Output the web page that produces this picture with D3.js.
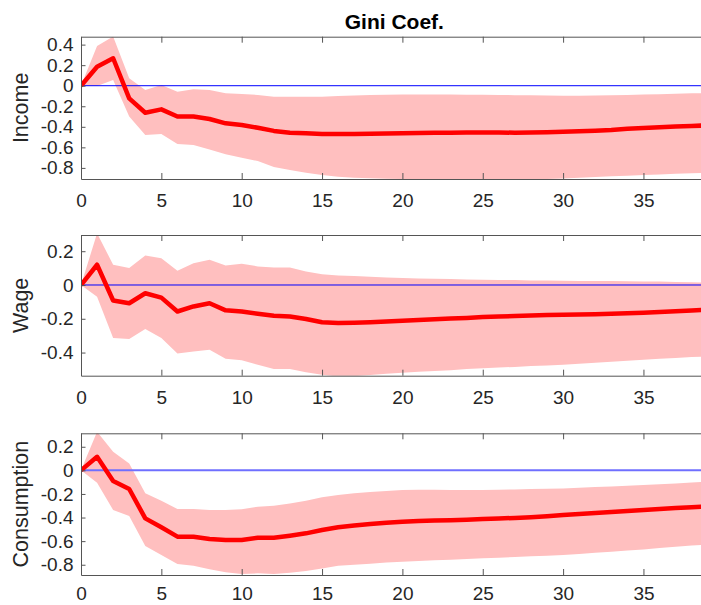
<!DOCTYPE html>
<html>
<head>
<meta charset="utf-8">
<script src="https://cdn.jsdelivr.net/npm/d3@7"></script>
<style>
  html, body { margin: 0; padding: 0; background: #fff; overflow: hidden; }
  svg { display: block; }
  text { font-family: "Liberation Sans", Arial, Helvetica, sans-serif; }
</style>
</head>
<body>
<svg id="chart" width="701" height="605"></svg>
<script>
// ---------------- DATA ----------------
const title = "Gini Coef.";
const horizon = d3.range(0, 40);            // periods 0..39
const xTicks = [0, 5, 10, 15, 20, 25, 30, 35];

const panelNames = ["Income", "Wage", "Consumption"];

const incomeMean = [0, 0.185, 0.267, -0.123, -0.263, -0.23, -0.30, -0.30, -0.324, -0.366,
  -0.383, -0.409, -0.44, -0.457, -0.463, -0.47, -0.47, -0.47, -0.468, -0.466,
  -0.463, -0.461, -0.459, -0.457, -0.456, -0.455, -0.456, -0.457, -0.456, -0.453,
  -0.448, -0.444, -0.438, -0.431, -0.420, -0.411, -0.404, -0.398, -0.392, -0.386];
const incomeUpper = [0, 0.387, 0.48, 0.072, -0.042, 0.007, -0.058, -0.035, -0.042, -0.074,
  -0.081, -0.09, -0.107, -0.107, -0.107, -0.107, -0.10, -0.095, -0.09, -0.088,
  -0.086, -0.085, -0.085, -0.086, -0.087, -0.088, -0.090, -0.092, -0.094, -0.096,
  -0.097, -0.097, -0.096, -0.093, -0.09, -0.086, -0.082, -0.078, -0.074, -0.071];
const incomeLower = [0, -0.003, 0.055, -0.30, -0.48, -0.47, -0.568, -0.577, -0.62, -0.668,
  -0.70, -0.733, -0.79, -0.82, -0.847, -0.87, -0.886, -0.895, -0.90, -0.905,
  -0.908, -0.91, -0.912, -0.913, -0.914, -0.914, -0.914, -0.913, -0.912, -0.908,
  -0.902, -0.895, -0.888, -0.882, -0.876, -0.870, -0.864, -0.858, -0.853, -0.848];

const wageMean = [0, 0.12, -0.092, -0.108, -0.049, -0.075, -0.157, -0.127, -0.108, -0.15,
  -0.157, -0.17, -0.182, -0.186, -0.201, -0.221, -0.225, -0.224, -0.221, -0.216,
  -0.211, -0.207, -0.203, -0.199, -0.195, -0.19, -0.187, -0.184, -0.181, -0.178,
  -0.176, -0.175, -0.173, -0.170, -0.167, -0.164, -0.160, -0.156, -0.151, -0.147];
const wageUpper = [0, 0.306, 0.12, 0.10, 0.175, 0.158, 0.084, 0.129, 0.15, 0.116,
  0.126, 0.11, 0.104, 0.104, 0.08, 0.064, 0.056, 0.053, 0.049, 0.045,
  0.041, 0.039, 0.037, 0.035, 0.033, 0.031, 0.030, 0.029, 0.027, 0.026,
  0.025, 0.024, 0.024, 0.023, 0.022, 0.021, 0.020, 0.018, 0.016, 0.015];
const wageLower = [0, -0.07, -0.314, -0.32, -0.26, -0.314, -0.406, -0.393, -0.383, -0.436,
  -0.446, -0.472, -0.498, -0.498, -0.516, -0.532, -0.542, -0.540, -0.533, -0.526,
  -0.519, -0.514, -0.509, -0.504, -0.498, -0.493, -0.489, -0.485, -0.480, -0.476,
  -0.472, -0.466, -0.460, -0.454, -0.448, -0.442, -0.437, -0.432, -0.427, -0.423];

const consMean = [0, 0.115, -0.09, -0.158, -0.407, -0.483, -0.562, -0.562, -0.582, -0.59,
  -0.59, -0.571, -0.571, -0.554, -0.534, -0.506, -0.483, -0.467, -0.455, -0.445,
  -0.435, -0.430, -0.426, -0.422, -0.418, -0.413, -0.408, -0.403, -0.397, -0.389,
  -0.379, -0.371, -0.362, -0.354, -0.345, -0.336, -0.328, -0.320, -0.312, -0.305];
const consUpper = [0, 0.327, 0.158, 0.059, -0.195, -0.258, -0.328, -0.328, -0.336, -0.336,
  -0.33, -0.308, -0.30, -0.28, -0.258, -0.229, -0.209, -0.194, -0.183, -0.174,
  -0.167, -0.165, -0.165, -0.166, -0.167, -0.167, -0.165, -0.162, -0.159, -0.156,
  -0.153, -0.148, -0.142, -0.136, -0.131, -0.125, -0.118, -0.111, -0.103, -0.096];
const consLower = [0, -0.105, -0.336, -0.387, -0.642, -0.718, -0.794, -0.808, -0.839, -0.864,
  -0.879, -0.873, -0.879, -0.868, -0.853, -0.831, -0.808, -0.800, -0.791, -0.782,
  -0.774, -0.768, -0.763, -0.757, -0.752, -0.746, -0.740, -0.735, -0.729, -0.724,
  -0.718, -0.709, -0.699, -0.690, -0.680, -0.670, -0.659, -0.648, -0.637, -0.628];

const yTicksIncome = [0.4, 0.2, 0, -0.2, -0.4, -0.6, -0.8];
const yTicksWage = [0.2, 0, -0.2, -0.4];
const yTicksCons = [0.2, 0, -0.2, -0.4, -0.6, -0.8];

const yDomainIncome = [-0.908, 0.477];
const yDomainWage = [-0.537, 0.296];
const yDomainCons = [-0.887, 0.314];

// ---------------- LAYOUT ----------------
const svg = d3.select("#chart");
const left = 81, right = 81 + 39 * 16.07;
const panels = [
  { name: panelNames[0], mean: incomeMean, up: incomeUpper, lo: incomeLower, ticks: yTicksIncome, dom: yDomainIncome, top: 36.7, bottom: 179, zc: "#0000ff", zw: 1, pad: 14.5 },
  { name: panelNames[1], mean: wageMean, up: wageUpper, lo: wageLower, ticks: yTicksWage, dom: yDomainWage, top: 235, bottom: 375.7, zc: "#0000ff", zw: 1, pad: 14.5 },
  { name: panelNames[2], mean: consMean, up: consUpper, lo: consLower, ticks: yTicksCons, dom: yDomainCons, top: 433.3, bottom: 575, zc: "#6f6fff", zw: 2, pad: 12 }
];

const x = d3.scaleLinear().domain([0, 39]).range([left, right]);
const fmt = d => String(+d.toFixed(1));
const axisColor = "#555";
const textColor = "#262626";

panels.forEach((p, i) => {
  const y = d3.scaleLinear().domain(p.dom).range([p.bottom, p.top]);
  const clipId = "clip" + i;
  svg.append("clipPath").attr("id", clipId)
    .append("rect").attr("x", left).attr("y", p.top)
    .attr("width", right - left).attr("height", p.bottom - p.top);

  const g = svg.append("g");
  const plot = g.append("g").attr("clip-path", `url(#${clipId})`);

  const area = d3.area()
    .x((d, k) => x(horizon[k]))
    .y0((d, k) => y(p.lo[k]))
    .y1((d, k) => y(p.up[k]));
  plot.append("path").datum(p.mean).attr("d", area)
    .attr("fill", "#ffbfbf").attr("stroke", "none");

  plot.append("line")
    .attr("x1", x(0)).attr("x2", x(39))
    .attr("y1", y(0)).attr("y2", y(0))
    .attr("stroke", p.zc).attr("stroke-width", p.zw);

  const line = d3.line().x((d, k) => x(horizon[k])).y(d => y(d));
  plot.append("path").datum(p.mean).attr("d", line)
    .attr("fill", "none").attr("stroke", "#ff0000")
    .attr("stroke-width", 4.5).attr("stroke-linejoin", "round");

  // axes
  const bottomAxis = d3.axisBottom(x).tickValues(xTicks).tickFormat(d => String(d))
    .tickSizeInner(-6).tickSizeOuter(0).tickPadding(p.pad);
  const topAxis = d3.axisTop(x).tickValues(xTicks).tickFormat("")
    .tickSizeInner(-6).tickSizeOuter(0);
  const leftAxis = d3.axisLeft(y).tickValues(p.ticks).tickFormat(fmt)
    .tickSizeInner(-4.5).tickSizeOuter(0).tickPadding(7.5);

  const gb = g.append("g").attr("transform", `translate(0,${p.bottom})`).call(bottomAxis);
  const gt = g.append("g").attr("transform", `translate(0,${p.top})`).call(topAxis);
  const gl = g.append("g").attr("transform", `translate(${left},0)`).call(leftAxis);

  [gb, gt, gl].forEach(ax => {
    ax.select(".domain").attr("stroke", axisColor).attr("stroke-width", 1);
    ax.selectAll(".tick line").attr("stroke", axisColor).attr("stroke-width", 1);
    ax.selectAll(".tick text").attr("fill", textColor)
      .style("font-size", "19px")
      .style("font-family", '"Liberation Sans", Arial, Helvetica, sans-serif');
  });

  // y label
  svg.append("text")
    .attr("transform", `translate(28,${(p.top + p.bottom) / 2}) rotate(-90)`)
    .attr("text-anchor", "middle")
    .attr("fill", textColor)
    .style("font-size", "21.5px")
    .text(p.name);
});

svg.append("text")
  .attr("x", (left + right) / 2).attr("y", 29.3)
  .attr("text-anchor", "middle")
  .attr("fill", "#000")
  .style("font-size", "21px").style("font-weight", "bold")
  .text(title);
</script>
</body>
</html>
